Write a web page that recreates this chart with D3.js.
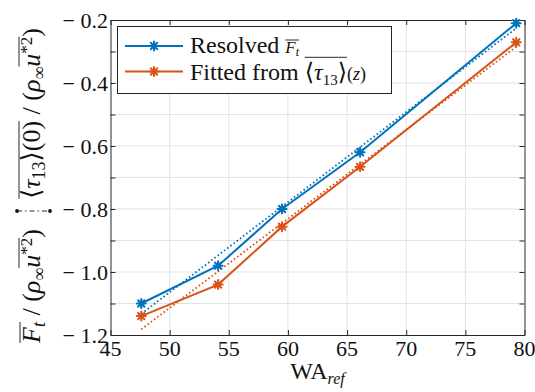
<!DOCTYPE html>
<html>
<head>
<meta charset="utf-8">
<script src="https://cdn.jsdelivr.net/npm/d3@7"></script>
</head>
<body style="margin:0">
<script>
// Wall-angle sweep: resolved vs fitted surface force
const wa = [47.6, 54.1, 59.5, 66.1, 79.3];
const resolved = [-1.10, -0.98, -0.80, -0.62, -0.21];
const fitted = [-1.14, -1.04, -0.856, -0.666, -0.271];
// linear trend lines, values at the first and last wall angle
const resolvedTrend = [-1.133, -0.226];
const fittedTrend = [-1.182, -0.285];

const xTicks = [45, 50, 55, 60, 65, 70, 75, 80];
const yTicks = [-1.2, -1.1, -1.0, -0.9, -0.8, -0.7, -0.6, -0.5, -0.4, -0.3, -0.2];
const yTickLabels = ["− 1.2", "", "− 1.0", "", "− 0.8", "", "− 0.6", "", "− 0.4", "", "− 0.2"];

const BLUE = "#0072BD", ORANGE = "#D95319", AXIS = "#262626", GRID = "#e3e3e3", INK = "#111";
const FONT = "Liberation Serif";
const FONT_CSS = "'Liberation Serif', 'DejaVu Serif', serif";

// apply the serif face both as attribute and as an important inline style
function serif(sel) {
  sel.attr("font-family", FONT)
    .each(function () { this.style.setProperty("font-family", FONT_CSS, "important"); });
  return sel;
}

const svg = d3.select("body").append("svg")
  .attr("width", 535).attr("height", 392).style("display", "block");
svg.append("rect").attr("width", 535).attr("height", 392).attr("fill", "#fff");
const L = 110.5, R = 524.5, T = 20, B = 335;

const x = d3.scaleLinear().domain([45, 80]).range([L, R]);
const y = d3.scaleLinear().domain([-1.2, -0.2]).range([B, T]);

// grid
const grid = svg.append("g");
grid.selectAll(".gx").data(xTicks.slice(1, -1)).join("line")
  .attr("x1", d => x(d)).attr("x2", d => x(d)).attr("y1", T).attr("y2", B)
  .attr("stroke", GRID).attr("stroke-width", 1);
grid.selectAll(".gy").data(yTicks.slice(1, -1)).join("line")
  .attr("y1", d => y(d)).attr("y2", d => y(d)).attr("x1", L).attr("x2", R)
  .attr("stroke", GRID).attr("stroke-width", 1);

// axes: tick marks only (inward on all four sides); labels are set below
function tickAxis(axis, tx, ty) {
  const g = svg.append("g").attr("transform", `translate(${tx},${ty})`)
    .call(axis.tickSize(-5).tickFormat("").tickSizeOuter(0));
  g.attr("font-family", null).attr("font-size", null).attr("text-anchor", null).attr("fill", null);
  g.select(".domain").attr("stroke", AXIS).attr("stroke-width", 1).attr("fill", "none");
  g.selectAll(".tick line").attr("stroke", AXIS).attr("stroke-width", 1);
  g.selectAll(".tick text").remove();
}
tickAxis(d3.axisBottom(x).tickValues(xTicks), 0, B);
tickAxis(d3.axisTop(x).tickValues(xTicks), 0, T);
tickAxis(d3.axisLeft(y).tickValues(yTicks), L, 0);
tickAxis(d3.axisRight(y).tickValues(yTicks), R, 0);

// tick labels
svg.append("g").selectAll("text").data(xTicks).join("text")
  .attr("x", d => x(d)).attr("y", 356).attr("text-anchor", "middle")
  .attr("font-size", 22).attr("fill", INK)
  .text(d => d).call(serif);
svg.append("g").selectAll("text").data(yTicks.filter((d, i) => yTickLabels[i]))
  .join("text")
  .attr("x", 108).attr("y", d => y(d) + 7.5).attr("text-anchor", "end")
  .attr("font-size", 22).attr("fill", INK)
  .text(d => yTickLabels[yTicks.indexOf(d)]).call(serif);

// trend lines (dotted)
[
  { v: resolvedTrend, c: BLUE },
  { v: fittedTrend, c: ORANGE }
].forEach(s => {
  svg.append("line")
    .attr("x1", x(wa[0])).attr("y1", y(s.v[0]))
    .attr("x2", x(wa[wa.length - 1])).attr("y2", y(s.v[1]))
    .attr("stroke", s.c).attr("stroke-width", 1.8)
    .attr("stroke-dasharray", "1.6,2.4");
});

// data series
const line = d3.line().x(d => x(d[0])).y(d => y(d[1]));

function asterisk(g, cx, cy, r, color) {
  const k = r * Math.SQRT1_2;
  const d = `M${cx - r},${cy}L${cx + r},${cy}M${cx},${cy - r}L${cx},${cy + r}` +
            `M${cx - k},${cy - k}L${cx + k},${cy + k}M${cx - k},${cy + k}L${cx + k},${cy - k}`;
  g.append("path").attr("d", d).attr("stroke", color).attr("stroke-width", 2)
    .attr("fill", "none").attr("stroke-linecap", "round");
}

[
  { v: resolved, c: BLUE },
  { v: fitted, c: ORANGE }
].forEach(s => {
  const pts = wa.map((w, i) => [w, s.v[i]]);
  svg.append("path").datum(pts).attr("d", line)
    .attr("fill", "none").attr("stroke", s.c).attr("stroke-width", 2);
  const mg = svg.append("g");
  pts.forEach(p => asterisk(mg, x(p[0]), y(p[1]), 4.5, s.c));
});

// inline math as one <text> with tspans; overline bars are added once fonts are laid out
const overlineJobs = [];
function mathText(parent, tx, ty, anchor, pieces) {
  const t = parent.append("text").attr("x", tx).attr("y", ty).attr("text-anchor", anchor)
    .attr("fill", INK).call(serif);
  let shift = 0, idx = 0;
  const groups = {};
  pieces.forEach(p => {
    const s = p.shift || 0;
    const ts = t.append("tspan").attr("font-size", p.size).text(p.t);
    if (p.it) ts.attr("font-style", "italic");
    if (s !== shift) ts.attr("dy", s - shift);
    shift = s;
    if (p.ol) {
      const g = groups[p.ol] || (groups[p.ol] = { i0: idx, off: p.off });
      g.i1 = idx + p.t.length;
    }
    idx += p.t.length;
  });
  overlineJobs.push({ parent, node: t.node(), y: ty, groups });
}
function drawOverlines() {
  overlineJobs.forEach(j => Object.values(j.groups).forEach(g => {
    const a = j.node.getStartPositionOfChar(g.i0).x;
    const b = j.node.getEndPositionOfChar(g.i1 - 1).x;
    j.parent.append("line")
      .attr("x1", Math.min(a, b)).attr("x2", Math.max(a, b))
      .attr("y1", j.y - g.off).attr("y2", j.y - g.off)
      .attr("stroke", INK).attr("stroke-width", 0.9);
  }));
}

// legend
const lg = svg.append("g");
lg.append("rect").attr("x", 117.5).attr("y", 26.5).attr("width", 274).attr("height", 67)
  .attr("fill", "#fff").attr("stroke", AXIS).attr("stroke-width", 1);
const legendRows = [
  { c: BLUE, y: 46, base: 52.5, pieces: [
    { t: "Resolved\u00a0", size: 24 },
    { t: "F", size: 17, it: true, ol: "a", off: 12.5 },
    { t: "t", size: 12, it: true, shift: 3, ol: "a" }
  ]},
  { c: ORANGE, y: 71.5, base: 80, pieces: [
    { t: "Fitted from\u00a0", size: 24 },
    { t: "⟨", size: 24, ol: "b", off: 22.7 },
    { t: "τ", size: 24, it: true, ol: "b" },
    { t: "13", size: 15, shift: 5, ol: "b" },
    { t: "⟩", size: 24, ol: "b" },
    { t: "(", size: 18 },
    { t: "z", size: 18, it: true },
    { t: ")", size: 18 }
  ]}
];
legendRows.forEach(r => {
  lg.append("line").attr("x1", 125).attr("x2", 183).attr("y1", r.y).attr("y2", r.y)
    .attr("stroke", r.c).attr("stroke-width", 2.2);
  asterisk(lg, 154, r.y, 4.5, r.c);
  mathText(lg, 190, r.base, "start", r.pieces);
});

// x label
mathText(svg, (L + R) / 2, 379, "middle", [
  { t: "WA", size: 24 },
  { t: "ref", size: 16, it: true, shift: 5 }
]);

// y label (rotated): two fractions split by a dash-dot separator
const yl = svg.append("g").attr("transform", "translate(40,343) rotate(-90)");
mathText(yl, 0, 0, "start", [
  { t: "F", size: 26, it: true, ol: "f", off: 20 },
  { t: "t", size: 18, it: true, shift: 5, ol: "f" },
  { t: "\u00a0/\u00a0", size: 26 },
  { t: "(", size: 26 },
  { t: "ρ", size: 26, it: true },
  { t: "∞", size: 18, shift: 5 },
  { t: "u", size: 26, it: true, ol: "u1", off: 21 },
  { t: "*2", size: 17, shift: -8, ol: "u1" },
  { t: ")", size: 26 }
]);
yl.append("line").attr("x1", 132).attr("x2", 132).attr("y1", -23).attr("y2", 10)
  .attr("stroke", INK).attr("stroke-width", 0.9).attr("stroke-dasharray", "5,3,1.5,3");
[-23, 10].forEach(v => yl.append("circle").attr("cx", 132).attr("cy", v).attr("r", 1.9).attr("fill", INK));
mathText(yl, 315, 0, "end", [
  { t: "⟨", size: 26, ol: "m", off: 21 },
  { t: "τ", size: 26, it: true, ol: "m" },
  { t: "13", size: 18, shift: 5, ol: "m" },
  { t: "⟩(0)", size: 26, ol: "m" },
  { t: "\u00a0/\u00a0", size: 26 },
  { t: "(", size: 26 },
  { t: "ρ", size: 26, it: true },
  { t: "∞", size: 18, shift: 5 },
  { t: "u", size: 26, it: true, ol: "u2", off: 21 },
  { t: "*2", size: 17, shift: -8, ol: "u2" },
  { t: ")", size: 26 }
]);

const fontsReady = (document.fonts && document.fonts.ready) ? document.fonts.ready : Promise.resolve();
fontsReady.then(() => requestAnimationFrame(drawOverlines));
</script>
</body>
</html>
